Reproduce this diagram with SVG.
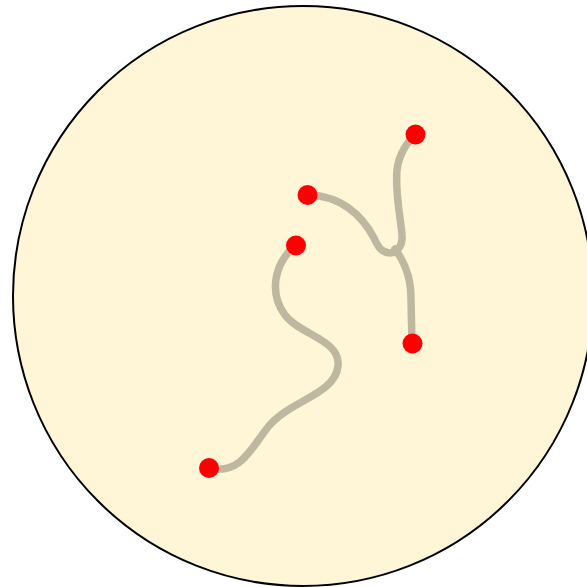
<svg xmlns="http://www.w3.org/2000/svg" width="587" height="587" viewBox="0 0 587 587">
<style>
.wire{fill:none;stroke:#bfb8a0;stroke-width:7.5;stroke-linecap:round}
.dot{fill:#ff0000}
</style>
<rect width="587" height="587" fill="#ffffff"/>
<circle cx="303" cy="296" r="290" fill="#fff5d7" stroke="#000" stroke-width="2"/>
<g id="connectors">
<path class="wire" d="M209,468 C240,475 250,450 268,427 C290,400 335,395 338,366 C341,340 300,335 285,315 C270,295 272,265 296,245"/>
<path class="wire" d="M307,195 C340,195 362,215 374,238 C378,247 382,253 390,253 C397,253 403,246 402,235 C401,220 395,195 397,170 C399,152 409,141 415,134"/>
<path class="wire" d="M395,249 C409,268 411,285 411,300 L412,343"/>
</g>
<g id="n1"><circle class="dot" cx="415.5" cy="134.5" r="10"/></g>
<g id="n2"><circle class="dot" cx="307.5" cy="195" r="10"/></g>
<g id="n3"><circle class="dot" cx="296" cy="245.5" r="10"/></g>
<g id="n4"><circle class="dot" cx="412.5" cy="343.5" r="10"/></g>
<g id="n5"><circle class="dot" cx="209" cy="468" r="10"/></g>
</svg>
